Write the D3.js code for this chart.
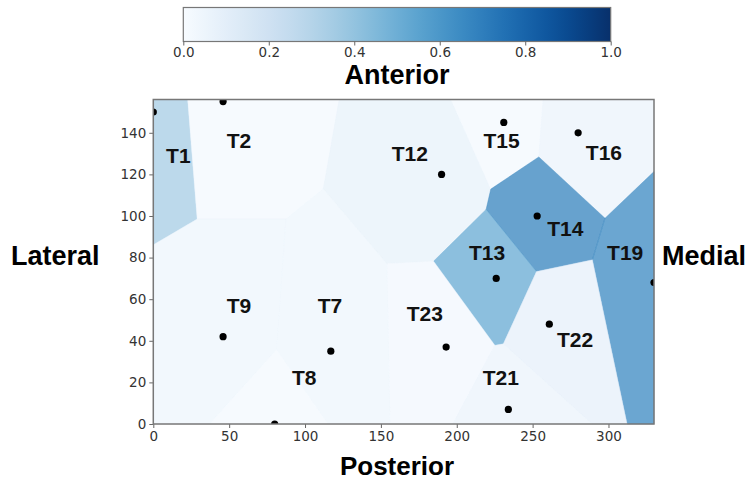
<!DOCTYPE html>
<html>
<head>
<meta charset="utf-8">
<script src="https://cdn.jsdelivr.net/npm/d3@7"></script>
<style>
  body { margin: 0; background: #fff; }
  svg { display: block; }
</style>
</head>
<body>
<div id="chart"></div>
<script>
// region names, seed points (data units) and their value
const names  = ['T1', 'T2', 'T12', 'T15', 'T16', 'T14', 'T13', 'T19', 'T22', 'T23', 'T21', 'T9', 'T7', 'T8'];
const xs     = [0, 46, 190, 231, 280, 253, 226, 330, 261, 193, 234, 46, 117, 80];
const ys     = [150, 155, 120, 145, 140, 100, 70, 68, 48, 37, 7, 42, 35, 0];
const values = [0.35, 0.02, 0.08, 0.02, 0.06, 0.68, 0.52, 0.66, 0.09, 0.03, 0.06, 0.05, 0.05, 0.02];
// label anchor points (data units)
const labelX = [16.5, 56.5, 169, 229.5, 297, 271.5, 220, 311, 278, 179, 229, 56.5, 116.5, 99.5];
const labelY = [129, 136.5, 130, 136.5, 130.5, 94, 82.5, 82.5, 40.5, 53, 22.5, 57, 57, 22.5];

const xTicks = [0, 50, 100, 150, 200, 250, 300];
const yTicks = [0, 20, 40, 60, 80, 100, 120, 140];
const cbTicks = [0, 0.2, 0.4, 0.6, 0.8, 1.0];

const W = 748, H = 481;
const svg = d3.select('#chart').append('svg')
    .attr('width', W)
    .attr('height', H);

const xScale = d3.scaleLinear().domain([0, 330]).range([153.3, 654]);
const yScale = d3.scaleLinear().domain([0, 156]).range([424, 99.5]);
const color = v => d3.interpolateBlues(v);

const defs = svg.append('defs');
defs.append('clipPath')
    .attr('id', 'plotclip')
    .append('rect')
    .attr('x', xScale(0))
    .attr('y', yScale(156))
    .attr('width', xScale(330) - xScale(0))
    .attr('height', yScale(0) - yScale(156));

// Voronoi cells
const pts = xs.map((x, i) => [x, ys[i]]);
const voronoi = d3.Delaunay.from(pts).voronoi([0, 0, 330, 156]);

const cells = svg.append('g');
pts.forEach((p, i) => {
    const poly = voronoi.cellPolygon(i);
    if (!poly) return;
    cells.append('path')
        .attr('d', 'M' + poly.map(q => [xScale(q[0]), yScale(q[1])].join(',')).join('L') + 'Z')
        .attr('fill', color(values[i]))
        .attr('fill-opacity', 0.75)
        .attr('stroke', color(values[i]))
        .attr('stroke-opacity', 0.35)
        .attr('stroke-width', 1);
});

// seed points (clipped to the axes like the original)
svg.append('g')
    .attr('clip-path', 'url(#plotclip)')
    .selectAll('circle')
    .data(pts)
    .enter()
    .append('circle')
    .attr('cx', d => xScale(d[0]))
    .attr('cy', d => yScale(d[1]))
    .attr('r', 3.6)
    .attr('fill', '#000');

// region labels
svg.append('g').selectAll('text')
    .data(names)
    .enter()
    .append('text')
    .attr('x', (d, i) => xScale(labelX[i]))
    .attr('y', (d, i) => yScale(labelY[i]))
    .attr('dy', '0.36em')
    .attr('text-anchor', 'middle')
    .style('font-family', '"Liberation Sans", Arial, sans-serif')
    .style('font-weight', 'bold')
    .style('font-size', '21px')
    .attr('fill', '#111')
    .text(d => d);

// axes
const tickFont = g => g.selectAll('text')
    .style('font-family', '"DejaVu Sans", sans-serif')
    .style('font-size', '13.5px')
    .attr('fill', '#333');

const xAxis = svg.append('g')
    .attr('transform', `translate(0,${yScale(0)})`)
    .call(d3.axisBottom(xScale).tickValues(xTicks).tickSize(4).tickPadding(3).tickSizeOuter(0));
xAxis.call(tickFont);

const yAxis = svg.append('g')
    .attr('transform', `translate(${xScale(0)},0)`)
    .call(d3.axisLeft(yScale).tickValues(yTicks).tickSize(4).tickPadding(3).tickSizeOuter(0));
yAxis.call(tickFont);

[xAxis, yAxis].forEach(a => {
    a.select('.domain').remove();
    a.selectAll('line').attr('stroke', '#666').attr('stroke-width', 1);
});

// frame
svg.append('rect')
    .attr('x', xScale(0))
    .attr('y', yScale(156))
    .attr('width', xScale(330) - xScale(0))
    .attr('height', yScale(0) - yScale(156))
    .attr('fill', 'none')
    .attr('stroke', '#777')
    .attr('stroke-width', 1.5);

// axis labels
const bigLabel = (x, y, txt, anchor, size) => svg.append('text')
    .attr('x', x)
    .attr('y', y)
    .attr('text-anchor', anchor)
    .style('font-family', '"Liberation Sans", Arial, sans-serif')
    .style('font-weight', 'bold')
    .style('font-size', size + 'px')
    .attr('fill', '#000')
    .text(txt);

bigLabel(397, 475, 'Posterior', 'middle', 26);
bigLabel(397, 84, 'Anterior', 'middle', 27);
bigLabel(11, 265, 'Lateral', 'start', 27);
bigLabel(662, 265, 'Medial', 'start', 27);

// colorbar
const cbX = d3.scaleLinear().domain([0, 1]).range([183.3, 610.7]);
const grad = defs.append('linearGradient')
    .attr('id', 'cbgrad')
    .attr('x1', '0%').attr('x2', '100%')
    .attr('y1', '0%').attr('y2', '0%');
d3.range(0, 1.0001, 0.05).forEach(t => {
    grad.append('stop')
        .attr('offset', (t * 100) + '%')
        .attr('stop-color', color(t));
});

svg.append('rect')
    .attr('x', cbX(0))
    .attr('y', 7.5)
    .attr('width', cbX(1) - cbX(0))
    .attr('height', 34)
    .attr('fill', 'url(#cbgrad)')
    .attr('stroke', '#777')
    .attr('stroke-width', 1.2);

const cbAxis = svg.append('g')
    .attr('transform', 'translate(0,41.5)')
    .call(d3.axisBottom(cbX).tickValues(cbTicks).tickFormat(d3.format('.1f')).tickSize(4).tickPadding(2).tickSizeOuter(0));
cbAxis.call(tickFont);
cbAxis.select('.domain').remove();
cbAxis.selectAll('line').attr('stroke', '#666');
</script>
</body>
</html>
